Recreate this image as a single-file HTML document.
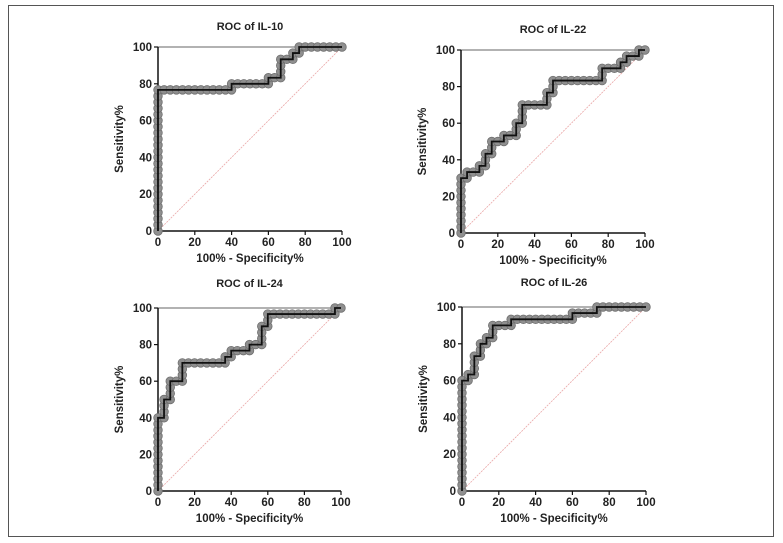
<!DOCTYPE html>
<html><head><meta charset="utf-8"><style>
html,body{margin:0;padding:0;background:#fff;}
svg{display:block;font-family:"Liberation Sans",Arial,sans-serif;}
</style></head><body>
<svg id="c" width="783" height="543" viewBox="0 0 783 543">
<rect x="8.5" y="5.5" width="765" height="531" fill="none" stroke="#555" stroke-width="1"/>
</svg>
<script>
const titles=["ROC of IL-10","ROC of IL-22","ROC of IL-24","ROC of IL-26"];
const ticks=[0,20,40,60,80,100];
const fpr10=[0,0,40,40,60,60,66.7,66.7,73.3,73.3,76.7,76.7,100];
const tpr10=[0,76.7,76.7,80,80,83.3,83.3,93.3,93.3,96.7,96.7,100,100];
const fpr22=[0,0,3.3,3.3,10,10,13.3,13.3,16.7,16.7,23.3,23.3,30,30,33.3,33.3,46.7,46.7,50,50,76.7,76.7,86.7,86.7,90,90,96.7,96.7,100];
const tpr22=[0,30,30,33.3,33.3,36.7,36.7,43.3,43.3,50,50,53.3,53.3,60,60,70,70,76.7,76.7,83.3,83.3,90,90,93.3,93.3,96.7,96.7,100,100];
const fpr24=[0,0,3.3,3.3,6.7,6.7,13.3,13.3,36.7,36.7,40,40,50,50,56.7,56.7,60,60,96.7,96.7,100];
const tpr24=[0,40,40,50,50,60,60,70,70,73.3,73.3,76.7,76.7,80,80,90,90,96.7,96.7,100,100];
const fpr26=[0,0,3.3,3.3,6.7,6.7,10,10,13.3,13.3,16.7,16.7,26.7,26.7,60,60,73.3,73.3,100];
const tpr26=[0,60,60,63.3,63.3,73.3,73.3,80,80,83.3,83.3,90,90,93.3,93.3,96.7,96.7,100,100];
const series=[[fpr10,tpr10],[fpr22,tpr22],[fpr24,tpr24],[fpr26,tpr26]];
const panels=[{x0:158,x1:342,y0:231,y1:47},{x0:461,x1:645,y0:233,y1:50},{x0:158,x1:341,y0:491,y1:308},{x0:462,x1:646,y0:491,y1:307}];
const NS="http://www.w3.org/2000/svg";
const svg=document.getElementById('c');
function mk(tag,attrs,parent,text){const e=document.createElementNS(NS,tag);for(const k in attrs)e.setAttribute(k,attrs[k]);if(text!==undefined)e.textContent=text;(parent||svg).appendChild(e);return e;}
panels.forEach((p,i)=>{
  const g=mk('g',{});
  
  
  const sx=v=>p.x0+(p.x1-p.x0)*v/100, sy=v=>p.y0+(p.y1-p.y0)*v/100;
  const cx=(p.x0+p.x1)/2, cy=(p.y0+p.y1)/2;
  const t=mk('text',{x:cx,y:p.y1-(i<2?17:21),'text-anchor':'middle','font-size':'11','font-weight':'bold',fill:'#222'},g,titles[i]);
  
  
  const tf=mk('line',{x1:p.x0,y1:p.y1,x2:p.x1,y2:p.y1,stroke:'#666','stroke-width':1},g);
  
  
  const d=mk('line',{x1:sx(0),y1:sy(0),x2:sx(100),y2:sy(100),stroke:'#eaa8a8','stroke-width':0.8,'stroke-dasharray':'2 1'},g);
  
  
  const ax=mk('line',{x1:p.x0,y1:p.y0,x2:p.x1,y2:p.y0,stroke:'#111','stroke-width':1.5},g);
  
  
  const ay=mk('line',{x1:p.x0,y1:p.y0,x2:p.x0,y2:p.y1,stroke:'#111','stroke-width':1.5},g);
  
  
  ticks.forEach(v=>{
    mk('line',{x1:sx(v),y1:p.y0,x2:sx(v),y2:p.y0+4,stroke:'#111','stroke-width':1.2},g);
    const xl=mk('text',{x:sx(v),y:p.y0+15,'text-anchor':'middle','font-size':'11.5','font-weight':'bold',fill:'#222'},g,v);
    
    
    mk('line',{x1:p.x0-4,y1:sy(v),x2:p.x0,y2:sy(v),stroke:'#111','stroke-width':1.2},g);
    const yl=mk('text',{x:p.x0-6,y:sy(v)+4,'text-anchor':'end','font-size':'11.5','font-weight':'bold',fill:'#222'},g,v);
    
    
  });
  const xt=mk('text',{x:cx,y:p.y0+31,'text-anchor':'middle','font-size':'11.5','font-weight':'bold',fill:'#222'},g,'100% - Specificity%');
  
  
  const yt=mk('text',{x:0,y:0,'text-anchor':'middle','font-size':'11.5','font-weight':'bold',fill:'#222',transform:`translate(${p.x0-35},${cy}) rotate(-90)`},g,'Sensitivity%');
  
  
  const [fx,ty]=series[i];
  const mg=mk('g',{},g);
  
  
  const pts=[];
  for(let k=0;k<fx.length;k++){
    if(k>0){const ax0=fx[k-1],ay0=ty[k-1],ax1=fx[k],ay1=ty[k];
      const len=Math.hypot(ax1-ax0,ay1-ay0);const n=Math.round(len/3.333);
      for(let j=1;j<n;j++)pts.push([ax0+(ax1-ax0)*j/n,ay0+(ay1-ay0)*j/n]);}
    pts.push([fx[k],ty[k]]);
  }
  pts.forEach(q=>{const c=mk('circle',{cx:sx(q[0]),cy:sy(q[1]),r:4.3,fill:'#8f8f8f',stroke:'#6f6f6f','stroke-width':0.8},mg);
    
    });
  const path=mk('polyline',{points:fx.map((v,k)=>sx(v)+','+sy(ty[k])).join(' '),fill:'none',stroke:'#111','stroke-width':1.8},g);
  
  
});
</script>
</body></html>
